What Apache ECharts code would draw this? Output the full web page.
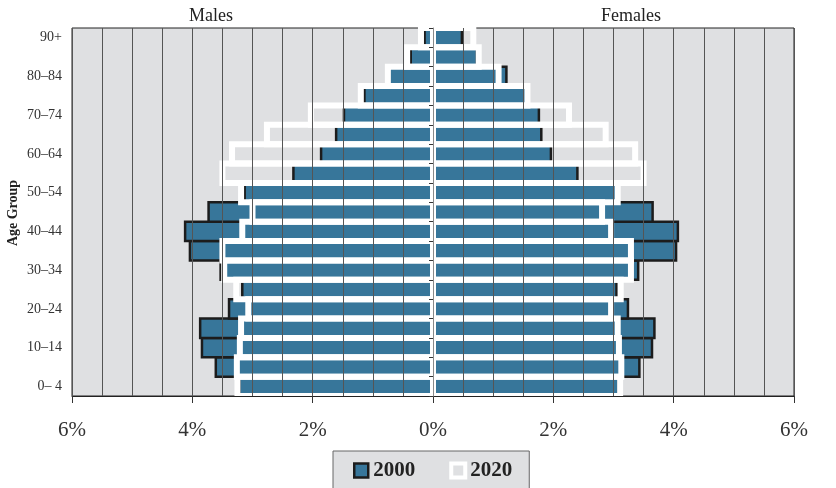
<!DOCTYPE html>
<html>
<head>
<meta charset="utf-8">
<script src="https://cdn.jsdelivr.net/npm/echarts@6/dist/echarts.min.js"></script>
<style>
html,body{margin:0;padding:0;background:#fff;}
#chart{width:836px;height:488px;}
</style>
</head>
<body>
<div id="chart"></div>
<script>
var ageGroups = ['0\u2013 4','5\u20139','10\u201314','15\u201319','20\u201324','25\u201329','30\u201334','35\u201339','40\u201344','45\u201349','50\u201354','55\u201359','60\u201364','65\u201369','70\u201374','75\u201379','80\u201384','85\u201389','90+'];
var male2000 = [3.22,3.61,3.84,3.87,3.39,3.17,3.53,4.04,4.12,3.73,3.13,2.32,1.86,1.61,1.48,1.14,0.73,0.37,0.14];
var male2020 = [3.25,3.26,3.21,3.19,3.07,3.27,3.47,3.50,3.17,3.00,3.19,3.50,3.34,2.76,2.03,1.20,0.75,0.43,0.20];
var female2000 = [3.08,3.43,3.64,3.68,3.24,3.05,3.41,4.04,4.07,3.65,3.05,2.40,1.96,1.80,1.76,1.55,1.22,0.73,0.48];
var female2020 = [3.11,3.13,3.09,3.07,2.96,3.12,3.29,3.29,2.96,2.81,3.07,3.50,3.36,2.87,2.26,1.57,1.09,0.76,0.67];

var SERIF = '"Liberation Serif","DejaVu Serif",serif';
var BLUE = '#37769a';
var DARK = '#1c1c1c';

var chart = echarts.init(document.getElementById('chart'), null, {renderer:'canvas'});

function pairs(arr, sign){
  return arr.map(function(v, i){ return [i, sign * v]; });
}

function barRenderer(fill, stroke, lw){
  return function(params, api){
    var idx = api.value(0);
    var v = api.value(1);
    var p0 = api.coord([0, idx]);
    var p1 = api.coord([v, idx]);
    var h = api.size([0, 1])[1];
    var x = Math.min(p0[0], p1[0]);
    var w = Math.abs(p1[0] - p0[0]);
    return {
      type: 'rect',
      shape: {x: x, y: p0[1] - h / 2, width: w, height: h},
      style: {fill: fill, stroke: stroke, lineWidth: lw}
    };
  };
}

function barSeries(name, data, fill, stroke, lw){
  return {
    name: name, type: 'custom', coordinateSystem: 'cartesian2d',
    encode: {x: 1, y: 0},
    data: data,
    clip: false,
    itemStyle: {color: fill, borderColor: stroke, borderWidth: lw},
    renderItem: barRenderer(fill, stroke, lw),
    emphasis: {disabled: true}
  };
}

var option = {
  animation: false,
  backgroundColor: '#ffffff',
  grid: {
    left: 72, right: 42, top: 28, bottom: 92,
    show: true, backgroundColor: '#dfe0e2', borderColor: '#222', borderWidth: 1
  },
  graphic: [
    {type:'text', x:211, y:16, style:{text:'Males', font:'18px ' + SERIF, fill:'#222', textAlign:'center', textVerticalAlign:'middle'}},
    {type:'text', x:631, y:16, style:{text:'Females', font:'18px ' + SERIF, fill:'#222', textAlign:'center', textVerticalAlign:'middle'}},
    {type:'text', x:13, y:213, rotation:Math.PI/2, style:{text:'Age Group', font:'bold 14px ' + SERIF, fill:'#222', textAlign:'center', textVerticalAlign:'middle'}}
  ],
  legend: {
    left: 333, top: 451,
    orient: 'horizontal',
    backgroundColor: '#dfe0e2',
    borderColor: '#666', borderWidth: 1,
    padding: [9, 17, 10, 20],
    itemGap: 34,
    itemWidth: 14, itemHeight: 14,
    icon: 'rect',
    textStyle: {fontFamily: SERIF, fontWeight: 'bold', fontSize: 21, color: '#222'},
    data: [
      {name:'2000', itemStyle:{color: BLUE, borderColor: DARK, borderWidth: 2.5}},
      {name:'2020', itemStyle:{color: '#dfe0e2', borderColor: '#ffffff', borderWidth: 4}}
    ],
    selectedMode: false
  },
  xAxis: {
    type: 'value', min: -6, max: 6, interval: 2, z: 5,
    axisLine: {show: true, onZero: false, lineStyle: {color: '#222', width: 1}},
    axisTick: {show: true, length: 7, lineStyle: {color: '#333'}},
    minorTick: {show: false, splitNumber: 4},
    splitLine: {show: true, lineStyle: {color: '#555', width: 1}},
    minorSplitLine: {show: true, lineStyle: {color: '#555', width: 1}},
    axisLabel: {
      fontFamily: SERIF, fontSize: 21, color: '#333', margin: 24,
      formatter: function(v){ return Math.abs(v) + '%'; }
    }
  },
  yAxis: [
    {
      type: 'category', data: ageGroups, position: 'left',
      axisLine: {show: false},
      axisTick: {show: false},
      axisLabel: {interval: 1, fontFamily: SERIF, fontSize: 14, color: '#333', margin: 10}
    },
    {
      type: 'category', data: ageGroups, position: 'left', offset: -361, z: 6,
      axisLine: {show: true, onZero: false, lineStyle: {color: '#8a8a8a', width: 1}},
      axisTick: {show: true, length: 4, interval: 0, lineStyle: {color: '#333'}},
      axisLabel: {show: false}
    }
  ],
  series: [
    barSeries('2000', pairs(male2000, -1), BLUE, DARK, 2.5),
    barSeries('2000', pairs(female2000, 1), BLUE, DARK, 2.5),
    barSeries('2020', pairs(male2020, -1), 'rgba(0,0,0,0)', '#ffffff', 6),
    barSeries('2020', pairs(female2020, 1), 'rgba(0,0,0,0)', '#ffffff', 6)
  ]
};
chart.setOption(option);
</script>
</body>
</html>
